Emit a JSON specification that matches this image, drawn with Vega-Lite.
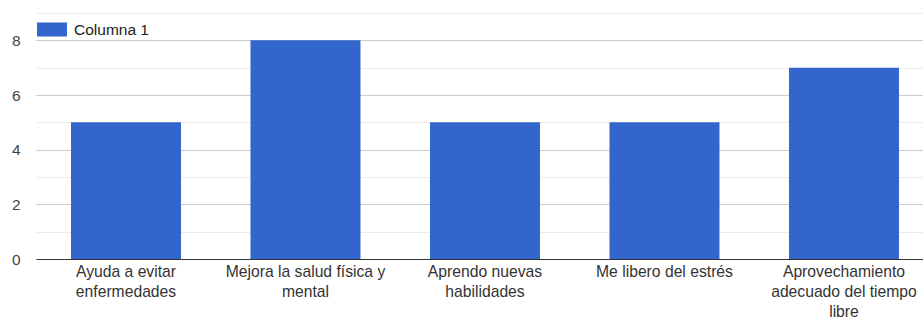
{
  "$schema": "https://vega.github.io/schema/vega-lite/v6.json",
  "autosize": {"type": "none"},
  "padding": {"left": 36, "top": 13, "right": 0, "bottom": 59},
  "width": 887,
  "height": 246,
  "background": "white",
  "config": {
    "view": {"stroke": null},
    "font": "Liberation Sans"
  },
  "data": {
    "values": [
      {"categoria": "Ayuda a evitar enfermedades", "valor": 5, "serie": "Columna 1"},
      {"categoria": "Mejora la salud física y mental", "valor": 8, "serie": "Columna 1"},
      {"categoria": "Aprendo nuevas habilidades", "valor": 5, "serie": "Columna 1"},
      {"categoria": "Me libero del estrés", "valor": 5, "serie": "Columna 1"},
      {"categoria": "Aprovechamiento adecuado del tiempo libre", "valor": 7, "serie": "Columna 1"}
    ]
  },
  "mark": {"type": "bar"},
  "encoding": {
    "x": {
      "field": "categoria",
      "type": "nominal",
      "sort": null,
      "scale": {"paddingInner": 0.3872, "paddingOuter": 0.1644, "align": 0.593},
      "axis": {
        "title": null,
        "labelAngle": 0,
        "ticks": false,
        "domain": true,
        "domainColor": "#333333",
        "domainWidth": 1,
        "labelFont": "Liberation Sans",
        "labelFontSize": 15.7,
        "labelColor": "#333333",
        "labelPadding": 5,
        "labelLineHeight": 20,
        "labelBaseline": "top",
        "labelLimit": 0,
        "labelExpr": "datum.label == 'Ayuda a evitar enfermedades' ? ['Ayuda a evitar', 'enfermedades'] : datum.label == 'Mejora la salud física y mental' ? ['Mejora la salud física y', 'mental'] : datum.label == 'Aprendo nuevas habilidades' ? ['Aprendo nuevas', 'habilidades'] : datum.label == 'Aprovechamiento adecuado del tiempo libre' ? ['Aprovechamiento', 'adecuado del tiempo', 'libre'] : datum.label"
      }
    },
    "y": {
      "field": "valor",
      "type": "quantitative",
      "scale": {"domain": [0, 9], "nice": false},
      "axis": {
        "title": null,
        "values": [0, 1, 2, 3, 4, 5, 6, 7, 8, 9],
        "labelExpr": "datum.value % 2 == 0 ? datum.label : ''",
        "domain": false,
        "ticks": false,
        "labelPadding": 16,
        "labelFont": "Liberation Sans",
        "labelFontSize": 15.5,
        "labelColor": "#444444",
        "gridColor": {"condition": {"test": "datum.value % 2 == 0", "value": "#cccccc"}, "value": "#ebebeb"},
        "gridWidth": 1
      }
    },
    "color": {
      "field": "serie",
      "type": "nominal",
      "scale": {"range": ["#3366cc"]},
      "legend": {
        "title": null,
        "orient": "none",
        "legendX": 1,
        "legendY": 1.5,
        "padding": 0,
        "symbolType": "M-1,-0.467H1V0.467H-1Z",
        "symbolSize": 900,
        "symbolStrokeWidth": 0,
        "labelOffset": 7,
        "labelFont": "Liberation Sans",
        "labelFontSize": 15.5,
        "labelColor": "#222222"
      }
    }
  }
}
